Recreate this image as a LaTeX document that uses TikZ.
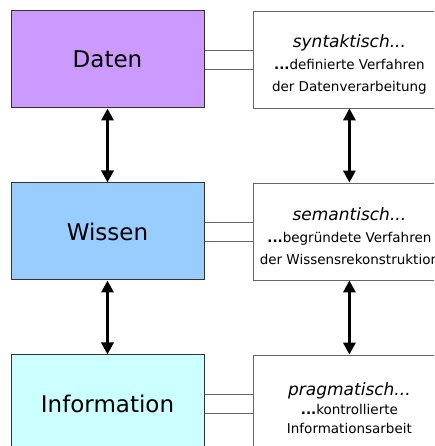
\documentclass[tikz,border=0pt]{standalone}
\usepackage{fontspec}
\setmainfont{DejaVu Sans}
\usetikzlibrary{arrows.meta,positioning}
\definecolor{datenlila}{HTML}{CC99FF}
\definecolor{wissenblau}{HTML}{99CCFF}
\definecolor{infotuerkis}{HTML}{CCFFFF}
\newcommand{\artname}[1]{{\fontsize{17}{21}\selectfont\itshape #1}}

\begin{document}
\begin{tikzpicture}[x=1pt,y=1pt,node distance=74pt and 48pt,
  stufe/.style={rectangle,draw=black!80,line width=1pt,minimum width=193pt,
    minimum height=97pt,inner sep=0pt,font=\fontsize{23}{28}\selectfont},
  art/.style={rectangle,draw=black!60,line width=0.8pt,fill=white,minimum width=193pt,
    minimum height=97pt,inner sep=0pt,align=center,text height=66pt,
    font=\fontsize{13.5}{21.5}\selectfont},
  verb/.style={draw=black!60,line width=0.8pt},
  pfeil/.style={{Triangle[width=12pt,length=12pt]}-{Triangle[width=12pt,length=12pt]},line width=3pt}]
  \useasboundingbox (0,0) rectangle (434,446);
  \clip (0,0) rectangle (434,446);
  \node[stufe,fill=datenlila] (daten) at (107.5,386.5) {Daten};
  \node[stufe,fill=wissenblau] (wissen) [below=of daten] {Wissen};
  \node[stufe,fill=infotuerkis] (info) [below=of wissen] {Information};
  \node[art] (syn) [right=of daten] {\artname{syntaktisch...}\\[1pt]
    \textbf{...}definierte Verfahren\\der Datenverarbeitung};
  \node[art] (sem) [right=of wissen] {\artname{semantisch...}\\[1pt]
    \textbf{...}begründete Verfahren\\der Wissensrekonstruktion};
  \node[art,text height=60pt,font=\fontsize{13.5}{19}\selectfont] (prag) [right=of info]
    {\artname{pragmatisch...}\\ \textbf{...}kontrollierte\\Informationsarbeit};
  \draw[verb] ([yshift=9.5pt]daten.east) -- ([yshift=9.5pt]syn.west);
  \draw[verb] ([yshift=-9.5pt]daten.east) -- ([yshift=-9.5pt]syn.west);
  \draw[verb] ([yshift=9.5pt]wissen.east) -- ([yshift=9.5pt]sem.west);
  \draw[verb] ([yshift=-9.5pt]wissen.east) -- ([yshift=-9.5pt]sem.west);
  \draw[verb] ([yshift=9.5pt]info.east) -- ([yshift=9.5pt]prag.west);
  \draw[verb] ([yshift=-9.5pt]info.east) -- ([yshift=-9.5pt]prag.west);
  \draw[pfeil] (daten) -- (wissen);
  \draw[pfeil] (wissen) -- (info);
  \draw[pfeil] (syn) -- (sem);
  \draw[pfeil] (sem) -- (prag);
\end{tikzpicture}
\end{document}
